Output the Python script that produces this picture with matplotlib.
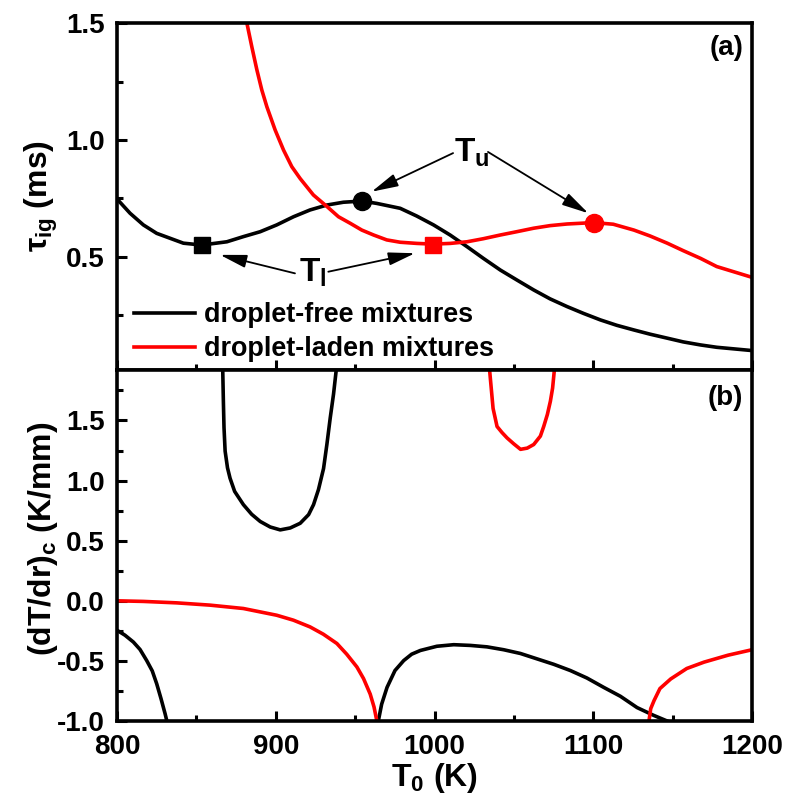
import matplotlib
matplotlib.use("Agg")
import matplotlib.pyplot as plt
from matplotlib.ticker import MultipleLocator

plt.rcParams['font.family'] = ['Liberation Sans', 'DejaVu Sans']
plt.rcParams['font.weight'] = 'bold'
plt.rcParams['axes.labelweight'] = 'bold'
plt.rcParams['axes.unicode_minus'] = False
plt.rcParams['mathtext.fontset'] = 'custom'
plt.rcParams['mathtext.rm'] = 'Liberation Sans:bold'
plt.rcParams['mathtext.bf'] = 'Liberation Sans:bold'
plt.rcParams['mathtext.it'] = 'Liberation Sans:bold'

# (a) ignition delay, droplet-free
free_T = [800, 808.2, 816.6, 825, 833.4, 841.8, 853.4, 869.2, 879.6, 890.2, 900.6, 911.2,
          921.6, 932.2, 942.6, 954.3, 963.6, 978.4, 988.8, 999.4, 1009.8, 1020.5, 1030.8,
          1041.5, 1051.8, 1062.5, 1072.8, 1083.5, 1093.8, 1104.5, 1114.8, 1125.6, 1135.8,
          1146.6, 1156.7, 1167.6, 1177.8, 1200]
free_tau = [0.748, 0.687, 0.637, 0.601, 0.580, 0.559, 0.551, 0.565, 0.587, 0.608, 0.637, 0.672,
            0.701, 0.722, 0.734, 0.739, 0.729, 0.708, 0.675, 0.637, 0.594, 0.544, 0.494,
            0.444, 0.402, 0.359, 0.321, 0.288, 0.259, 0.231, 0.208, 0.188, 0.170,
            0.153, 0.137, 0.124, 0.114, 0.100]

# (a) ignition delay, droplet-laden
laden_T = [881.8, 884.9, 888.1, 891.2, 894.4, 899.6, 904.9, 910.1, 915.4, 923.7, 932.2,
           939.5, 946.9, 954.2, 961.6, 969.9, 978.4, 988.9, 999.0, 1009.9, 1020.5, 1030.7,
           1041.5, 1051.8, 1062.5, 1072.8, 1083.5, 1100.3, 1112.6, 1125.6, 1135.7, 1146.6,
           1156.7, 1167.6, 1177.8, 1200]
laden_tau = [1.50, 1.399, 1.30, 1.214, 1.142, 1.043, 0.957, 0.886, 0.835, 0.765, 0.716,
             0.672, 0.644, 0.615, 0.594, 0.573, 0.563, 0.558, 0.555, 0.558, 0.565, 0.578,
             0.594, 0.608, 0.623, 0.634, 0.641, 0.647, 0.640, 0.615, 0.590, 0.559,
             0.527, 0.494, 0.459, 0.413]

# turning points: T_l (squares), T_u (circles)
free_Tl, free_Tl_tau = 853.4, 0.551
free_Tu, free_Tu_tau = 954.3, 0.739
laden_Tl, laden_Tl_tau = 999.0, 0.553
laden_Tu, laden_Tu_tau = 1100.3, 0.647

# (b) critical temperature gradient, droplet-free (three branches)
free_b1_T = [800, 805, 810.3, 814.5, 818.7, 822.2, 825, 827.7, 830.3, 831.4]
free_b1_g = [-0.245, -0.286, -0.343, -0.405, -0.497, -0.583, -0.69, -0.813, -0.94, -1.0]
free_b2_T = [866.6, 867.0, 867.4, 868.1, 869.6, 871.2, 874.1, 879.6, 884.8, 890.2, 896.5,
             902.8, 909.1, 915.4, 920.7, 923.8, 926.9, 930.1, 932.2, 934.3, 936.4, 938.1]
free_b2_g = [1.92, 1.66, 1.44, 1.245, 1.106, 1.02, 0.91, 0.80, 0.72, 0.66, 0.614,
             0.59, 0.606, 0.645, 0.717, 0.80, 0.925, 1.10, 1.30, 1.52, 1.72, 1.92]
free_b3_T = [964.6, 966.7, 970.1, 975.1, 980.6, 985.6, 991.1, 1001.5, 1012.1, 1022.6, 1033.1,
             1043.6, 1054.1, 1064.6, 1075.1, 1085.6, 1096, 1106.6, 1117.1, 1127.6, 1138.1,
             1146.6]
free_b3_g = [-1.0, -0.86, -0.72, -0.58, -0.497, -0.444, -0.413, -0.378, -0.365, -0.371, -0.383,
             -0.407, -0.438, -0.483, -0.528, -0.58, -0.642, -0.72, -0.794, -0.888, -0.953,
             -1.0]

# (b) droplet-laden
laden_b1_T = [800, 816.6, 837.6, 858.6, 879.6, 890.1, 900.6, 911.1, 921.6, 930, 938.5,
              944.7, 951.1, 955.3, 959.5, 961.9, 963.7]
laden_b1_g = [0.0, -0.005, -0.017, -0.036, -0.064, -0.092, -0.12, -0.161, -0.217, -0.278,
              -0.355, -0.444, -0.55, -0.647, -0.776, -0.883, -1.0]
laden_b2_T = [1034.7, 1035.9, 1036.9, 1039.4, 1042.5, 1045.7, 1049.9, 1054.2, 1058.4,
              1062.5, 1066.7, 1068.8, 1071.1, 1073, 1074.4, 1075.5]
laden_b2_g = [1.92, 1.745, 1.60, 1.45, 1.40, 1.355, 1.306, 1.26, 1.27,
              1.30, 1.37, 1.45, 1.55, 1.66, 1.77, 1.92]
laden_b3_T = [1135.1, 1136.2, 1138.3, 1142, 1148.8, 1158.9, 1169.8, 1185, 1200]
laden_b3_g = [-1.0, -0.897, -0.83, -0.73, -0.65, -0.563, -0.51, -0.452, -0.407]

LW = 2.6
RED = '#ff0000'

fig = plt.figure(figsize=(7.88, 8.05), dpi=100)
ax1 = fig.add_axes([0.1485, 0.5404, 0.8058, 0.4310])
ax2 = fig.add_axes([0.1485, 0.1043, 0.8058, 0.4361])

# ---- panel (a)
ax1.plot(free_T, free_tau, color='k', lw=LW, label='droplet-free mixtures')
ax1.plot(laden_T, laden_tau, color=RED, lw=LW, label='droplet-laden mixtures')
ax1.plot([free_Tl], [free_Tl_tau], 's', color='k', ms=11.5)
ax1.plot([free_Tu], [free_Tu_tau], 'o', color='k', ms=13)
ax1.plot([laden_Tl], [laden_Tl_tau], 's', color=RED, ms=12)
ax1.plot([laden_Tu], [laden_Tu_tau], 'o', color=RED, ms=13)

arr = dict(arrowstyle='-|>,head_length=0.9,head_width=0.22', color='k', lw=1.3,
           mutation_scale=18, shrinkA=0, shrinkB=0)
ax1.annotate('', xy=(960.4, 0.779), xytext=(1011.7, 0.944), arrowprops=arr)
ax1.annotate('', xy=(1096.9, 0.687), xytext=(1033.7, 0.949), arrowprops=arr)
ax1.annotate('', xy=(864.9, 0.509), xytext=(912.1, 0.430), arrowprops=arr)
ax1.annotate('', xy=(987.7, 0.516), xytext=(933.1, 0.437), arrowprops=arr)
ax1.text(1023.6, 0.906, r'$\mathbf{T_u}$', fontsize=24, ha='center', va='baseline')
ax1.text(923.5, 0.393, r'$\mathbf{T_l}$', fontsize=24, ha='center', va='baseline')

ax1.set_xlim(800, 1200)
ax1.set_ylim(0.017, 1.5)
ax1.set_yticks([0.5, 1.0, 1.5])
ax1.yaxis.set_minor_locator(MultipleLocator(0.25))
ax1.set_ylabel(r'$\tau_{\mathbf{ig}}$ (ms)', fontsize=23)
ax1.text(0.986, 0.965, '(a)', transform=ax1.transAxes, fontsize=20,
         ha='right', va='top')
ax1.legend(loc='lower left', bbox_to_anchor=(0.027, 0.022), frameon=False,
           fontsize=19.4, handlelength=2.25, handletextpad=0.33, labelspacing=0.3,
           borderpad=0, borderaxespad=0)
ax1.tick_params(labelbottom=False)

# ---- panel (b)
for T, g in [(free_b1_T, free_b1_g), (free_b2_T, free_b2_g), (free_b3_T, free_b3_g)]:
    ax2.plot(T, g, color='k', lw=LW)
for T, g in [(laden_b1_T, laden_b1_g), (laden_b2_T, laden_b2_g), (laden_b3_T, laden_b3_g)]:
    ax2.plot(T, g, color=RED, lw=LW)

ax2.set_xlim(800, 1200)
ax2.set_ylim(-1.0, 1.92)
ax2.set_yticks([-1.0, -0.5, 0.0, 0.5, 1.0, 1.5])
ax2.yaxis.set_minor_locator(MultipleLocator(0.25))
ax2.set_xticks([800, 900, 1000, 1100, 1200])
ax2.set_ylabel(r'$\mathbf{(dT/dr)_c}$ (K/mm)', fontsize=23)
ax2.set_xlabel(r'$\mathbf{T_0}$ (K)', fontsize=23, labelpad=1)
ax2.text(0.986, 0.957, '(b)', transform=ax2.transAxes, fontsize=20,
         ha='right', va='top')

for ax in (ax1, ax2):
    ax.xaxis.set_minor_locator(MultipleLocator(50))
    for s in ax.spines.values():
        s.set_linewidth(2.6)
    ax.tick_params(which='both', direction='in', width=2.2, labelsize=20, pad=9,
                   top=False, right=False)
    ax.tick_params(which='major', length=7.5)
    ax.tick_params(which='minor', length=4)
ax1.yaxis.set_label_coords(-0.09, 0.5)
ax2.yaxis.set_label_coords(-0.09, 0.52)

fig.savefig('out.png', dpi=100)
